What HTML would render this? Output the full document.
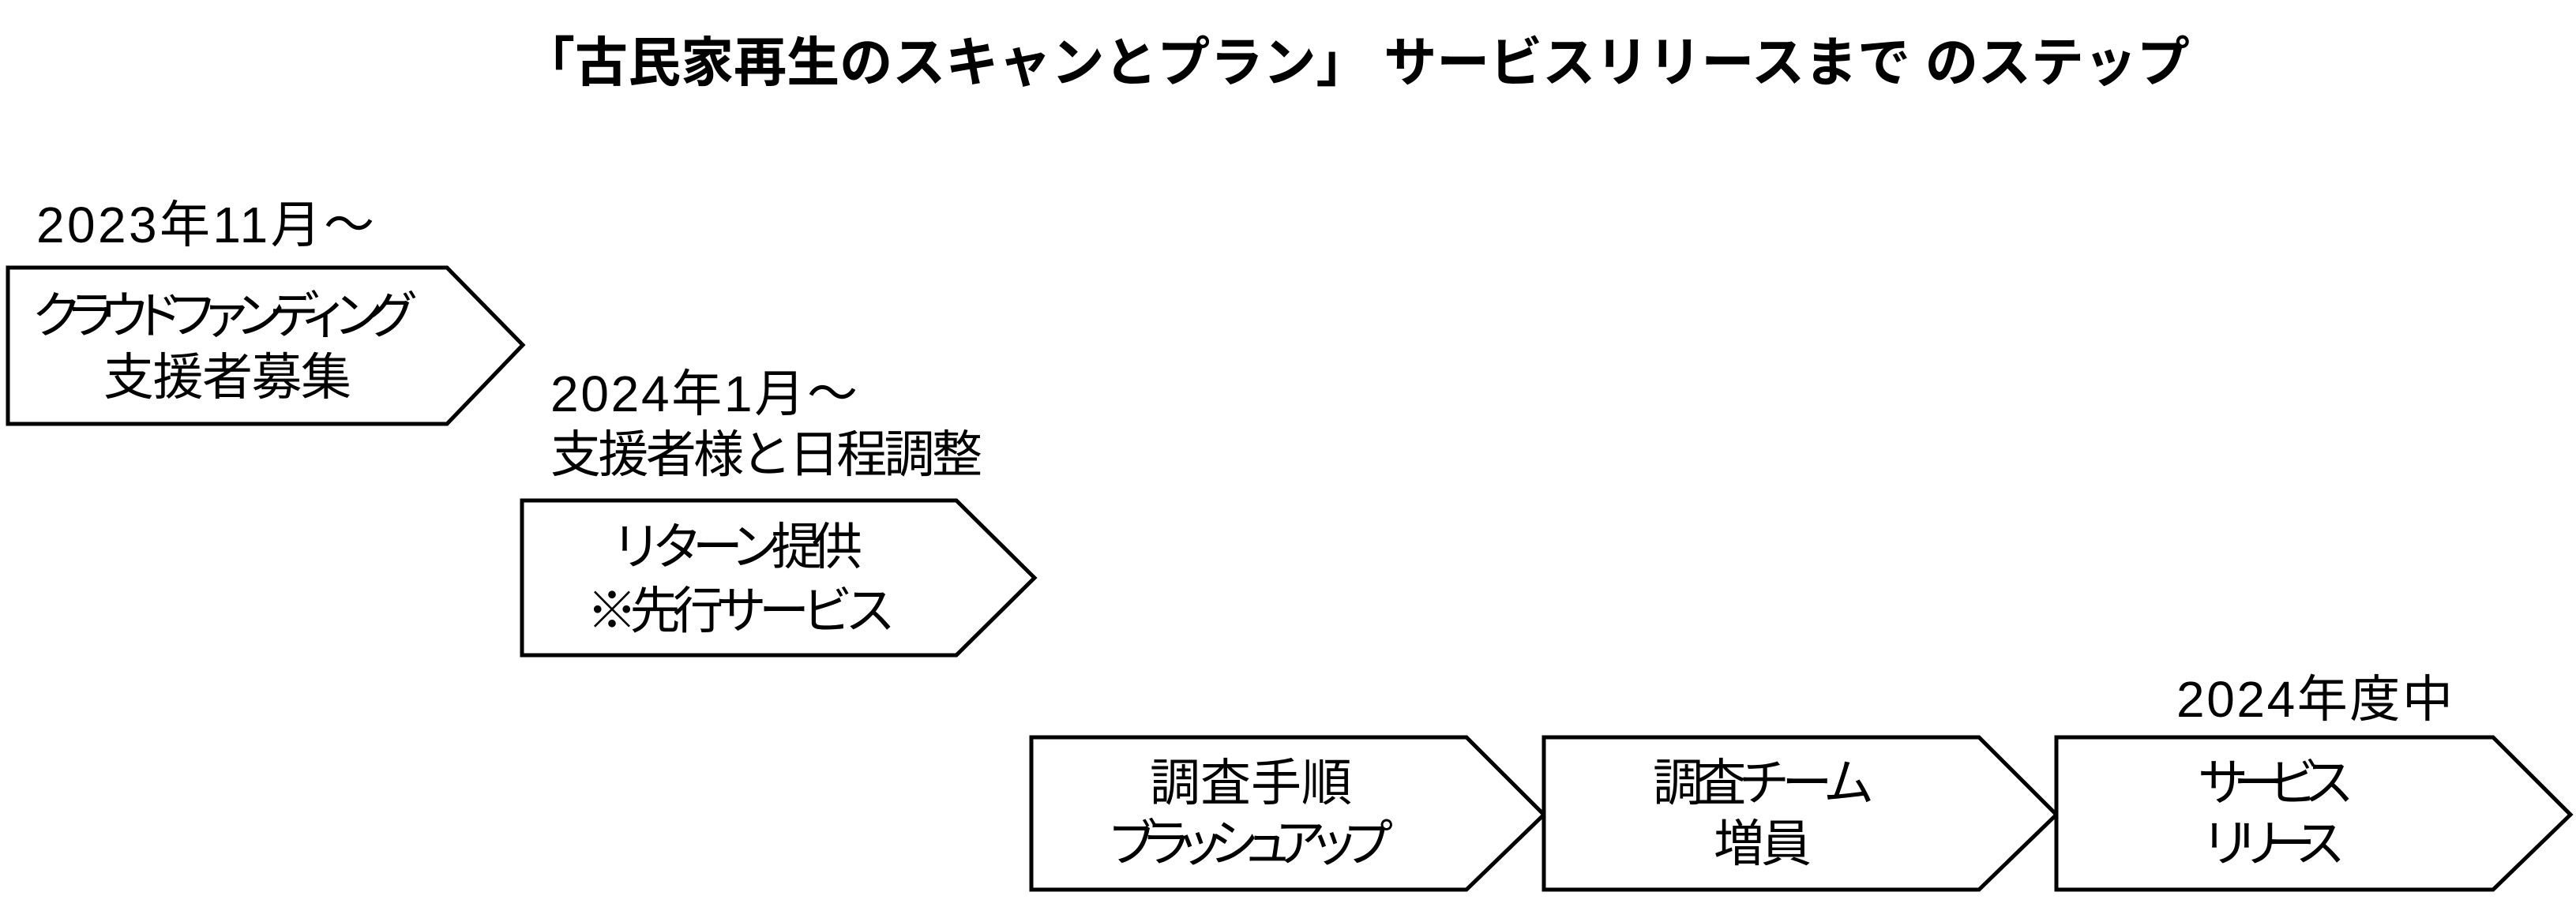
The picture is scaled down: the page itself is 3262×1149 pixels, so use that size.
<!DOCTYPE html>
<html><head><meta charset="utf-8"><style>
html,body{margin:0;padding:0;background:#fff;}
svg{display:block}
text{font-family:"Liberation Sans","Noto Sans CJK JP",sans-serif;fill:#000;}
</style></head><body>
<svg width="3262" height="1149" viewBox="0 0 3262 1149" xmlns="http://www.w3.org/2000/svg">
<g fill="#fff" stroke="#000" stroke-width="5" stroke-linejoin="miter">
<polygon points="10,339 566,339 662,437 566,537 10,537"/>
<polygon points="661,634 1211,634 1310,732 1211,830 661,830"/>
<polygon points="1306,934 1857,934 1955,1032 1857,1127 1306,1127"/>
<polygon points="1955,934 2506,934 2604,1032 2506,1127 1955,1127"/>
<polygon points="2604,934 3157,934 3255,1032 3157,1127 2604,1127"/>
</g>
<text x="661" y="103" font-size="68" font-weight="bold" textLength="2112" lengthAdjust="spacingAndGlyphs">「古民家再生のスキャンとプラン」 サービスリリースまで のステップ</text>
<g font-size="64" lengthAdjust="spacingAndGlyphs">
<text x="46" y="307" textLength="428">2023年11月〜</text>
<text x="40" y="422" textLength="489">クラウドファンディング</text>
<text x="131" y="500" textLength="314">支援者募集</text>
<text x="697" y="521" textLength="389">2024年1月〜</text>
<text x="697" y="598" textLength="547">支援者様と日程調整</text>
<text x="774" y="715" textLength="318">リターン提供</text>
<text x="743" y="796" textLength="391">※先行サービス</text>
<text x="2756" y="908" textLength="350">2024年度中</text>
<text x="1456" y="1014" textLength="256">調査手順</text>
<text x="1402" y="1091" textLength="362">ブラッシュアップ</text>
<text x="2093" y="1014" textLength="280">調査チーム</text>
<text x="2170" y="1091" textLength="124">増員</text>
<text x="2783" y="1014" textLength="198">サービス</text>
<text x="2787" y="1091" textLength="183">リリース</text>
</g>
</svg>
</body></html>
